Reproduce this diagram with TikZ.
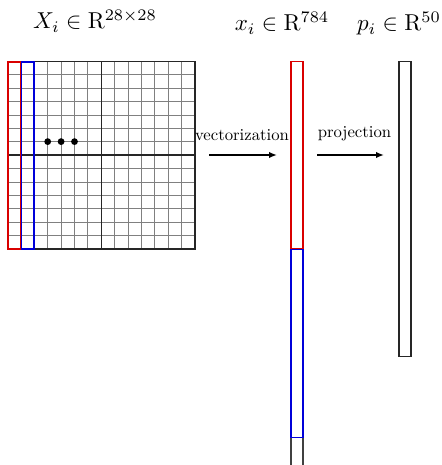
\documentclass[tikz,border=0pt]{standalone}
\usetikzlibrary{arrows.meta}
\begin{document}
\begin{tikzpicture}[x=1pt,y=-1pt,
  title/.style={anchor=base,inner sep=0pt,scale=2.3},
  lbl/.style={anchor=base,inner sep=0pt,scale=1.67},
  arr/.style={line width=1.8pt,-{Latex[length=8pt,width=6.5pt]}},
  thin grid/.style={black!50,line width=1pt},
  red col/.style={draw=red!85!black,line width=1.6pt},
  blue col/.style={draw=blue!85!black,line width=1.6pt},
  box/.style={draw=black!85,line width=1.2pt}]
\useasboundingbox (0,0) rectangle (441,465);
% grid
\foreach \k in {1,...,13}{
  \draw[thin grid] ({7.5+\k*187.5/14},61.5) -- ({7.5+\k*187.5/14},249);
  \draw[thin grid] (7.5,{61.5+\k*187.5/14}) -- (195,{61.5+\k*187.5/14});
}
\draw[black!85,line width=1.5pt] (101.25,61.5) -- (101.25,249);
\draw[black!85,line width=1.5pt] (7.5,155.25) -- (195,155.25);
\draw[box] (7.5,61.5) rectangle (195,249);
\draw[red col] (7.8,61.8) rectangle (20.4,248.7);
\draw[blue col] (21.4,61.8) rectangle (33.8,248.7);
\foreach \i/\xx in {1/47.7,2/61.1,3/74.5}{
  \fill (\xx,141.6) circle (3.4pt) coordinate (dot\i);
}
% vector x
\draw[black!75,line width=1.2pt] (291,437.5) -- (291,466) (303,437.5) -- (303,466);
\draw[blue col] (291,249.5) rectangle (303,437.5);
\draw[red col] (291,61.5) rectangle (303,248.5);
% vector p
\draw[box] (399,61.5) rectangle (411,356.5);
% titles
\node[title] (tX) at (95,29) {$X_i\in\mathrm{R}^{28\times 28}$};
\node[title] (tx) at (282,31) {$x_i\in\mathrm{R}^{784}$};
\node[title] (tp) at (399,31) {$p_i\in\mathrm{R}^{50}$};
% arrows
\coordinate (a1s) at (209,155);
\coordinate (a1e) at (277,155);
\coordinate (a2s) at (317,155);
\coordinate (a2e) at (384,155);
\draw[arr] (a1s) -- (a1e);
\draw[arr] (a2s) -- (a2e);
\node[lbl] (l1) at (242,141) {vectorization};
\node[lbl] (l2) at (354.5,138) {projection};
\end{tikzpicture}
\end{document}
